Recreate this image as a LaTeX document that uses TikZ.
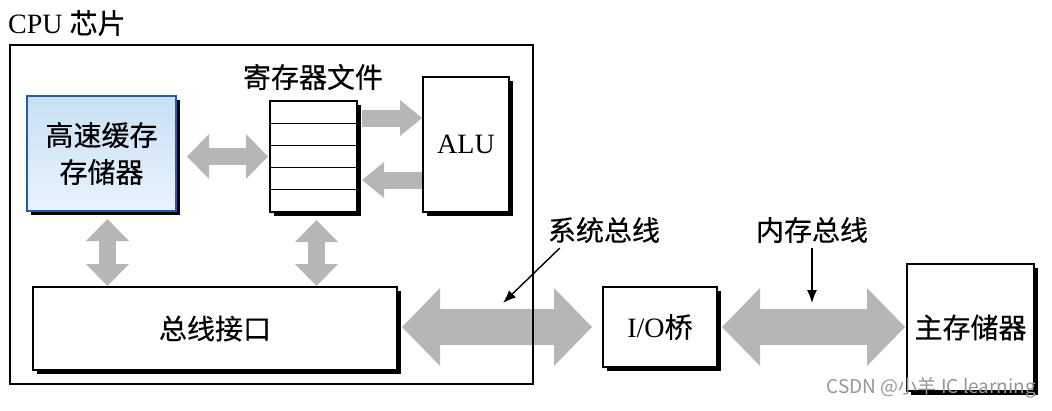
\documentclass[tikz,border=0pt]{standalone}
\usepackage{fontspec}
\setmainfont{Liberation Serif}
\newfontfamily\cjk[FakeBold=0.4]{Noto Sans CJK SC}
\newfontfamily\wmfont{Noto Sans CJK SC}
\usetikzlibrary{arrows.meta,calc,shadows}
\definecolor{fatgray}{RGB}{182,182,182}
\definecolor{cachetop}{RGB}{200,224,244}
\definecolor{cachebot}{RGB}{232,243,252}
\definecolor{cacheedge}{RGB}{40,90,170}
\definecolor{wmgray}{RGB}{150,150,150}
\begin{document}
\begin{tikzpicture}[x=1pt,y=-1pt,
  box/.style={draw, line width=1.2pt, fill=white, inner sep=0pt, outer sep=0pt,
    anchor=north west, align=center, font=\fontsize{28}{37}\selectfont},
  shbox/.style={box, drop shadow={shadow xshift=4pt, shadow yshift=-4pt, fill=black, opacity=1}},
  lbl/.style={inner sep=0pt, font=\fontsize{28}{30}\selectfont},
  fat/.style args={#1/#2/#3}{draw=fatgray, line width=#1pt,
    {Triangle[length=#3pt 0 0,width=#2pt 0 0,fill=fatgray,line width=0pt 0 0]}-{Triangle[length=#3pt 0 0,width=#2pt 0 0,fill=fatgray,line width=0pt 0 0]}},
  fatone/.style args={#1/#2/#3}{draw=fatgray, line width=#1pt,
    -{Triangle[length=#3pt 0 0,width=#2pt 0 0,fill=fatgray,line width=0pt 0 0]}},
  lab/.style={draw, line width=1.4pt, -{Latex[length=13pt,width=10pt]}}
]
\useasboundingbox (0,0) rectangle (1052,410);

% label of the chip
\node[lbl, anchor=west] (cpul) at (8,23) {CPU {\cjk 芯片}};

% boxes
\node[shbox, draw=cacheedge, top color=cachetop, bottom color=cachebot, minimum width=149pt, minimum height=115pt] (cache) at (27,96) {\cjk 高速缓存\\\cjk 存储器};
\node[shbox, minimum width=87pt, minimum height=111pt] (reg) at (270,101) {};
\foreach \i in {1,...,4}
  \draw[line width=1.1pt] ($(reg.north west)!\i/5!(reg.south west)$) -- ($(reg.north east)!\i/5!(reg.south east)$);
\node[lbl] (regl) at (313,77) {\cjk 寄存器文件};
\node[shbox, minimum width=86pt, minimum height=135pt] (alu) at (423,77) {ALU};
\node[shbox, minimum width=364pt, minimum height=83pt] (bif) at (33,287) {\cjk 总线接口};
\node[shbox, minimum width=114pt, minimum height=80pt] (io) at (603,287) {I/O{\cjk 桥}};
\node[shbox, minimum width=127pt, minimum height=127pt] (mem) at (907,264) {\cjk 主存储器};

% fat arrows
\draw[fat=17/45/22] ($(reg.west -| cache.east)+(11,0)$) -- ($(reg.west)+(-2,0)$);
\draw[fatone=17/36/22] ($(reg.north east)+(5,17)$) -- ($(alu.west |- reg.north east)+(-1,17)$);
\draw[fatone=17/36/22] ($(alu.west |- reg.south east)+(-1,-32)$) -- ($(reg.south east)+(5,-32)$);
\draw[fat=17/43/22] ($(cache.south)+(6,8)$) -- ($(cache.south |- bif.north)+(6,-1)$);
\draw[fat=17/43/22] ($(reg.south)+(3,8)$) -- ($(reg.south |- bif.north)+(3,-1)$);
\draw[fat=36/78/38] ($(io.west -| bif.east)+(5,0)$) -- ($(io.west)+(-11,0)$);
\draw[fat=36/78/38] ($(io.east)+(5,0)$) -- ($(io.east -| mem.west)+(-2,0)$);

% chip outline
\node[draw, line width=1.8pt, inner sep=0pt, outer sep=0pt, anchor=north west,
  minimum width=523pt, minimum height=339pt] (cpu) at (10,45) {};

% bus labels
\node[lbl] (sysl) at (604,230) {\cjk 系统总线};
\node[lbl] (meml) at (812,230) {\cjk 内存总线};
\coordinate (sysp) at (503,303);
\coordinate (memp) at (812,303);
\draw[lab] ($(sysl.south west)+(12,5)$) -- (sysp);
\draw[lab] ($(meml.south)+(0,5)$) -- (memp);

% watermark
\node[inner sep=0pt, anchor=east, text=wmgray, font=\wmfont\fontsize{19}{22}\selectfont] (wm) at (1036,388) {CSDN @小羊 IC learning};
\end{tikzpicture}
\end{document}
